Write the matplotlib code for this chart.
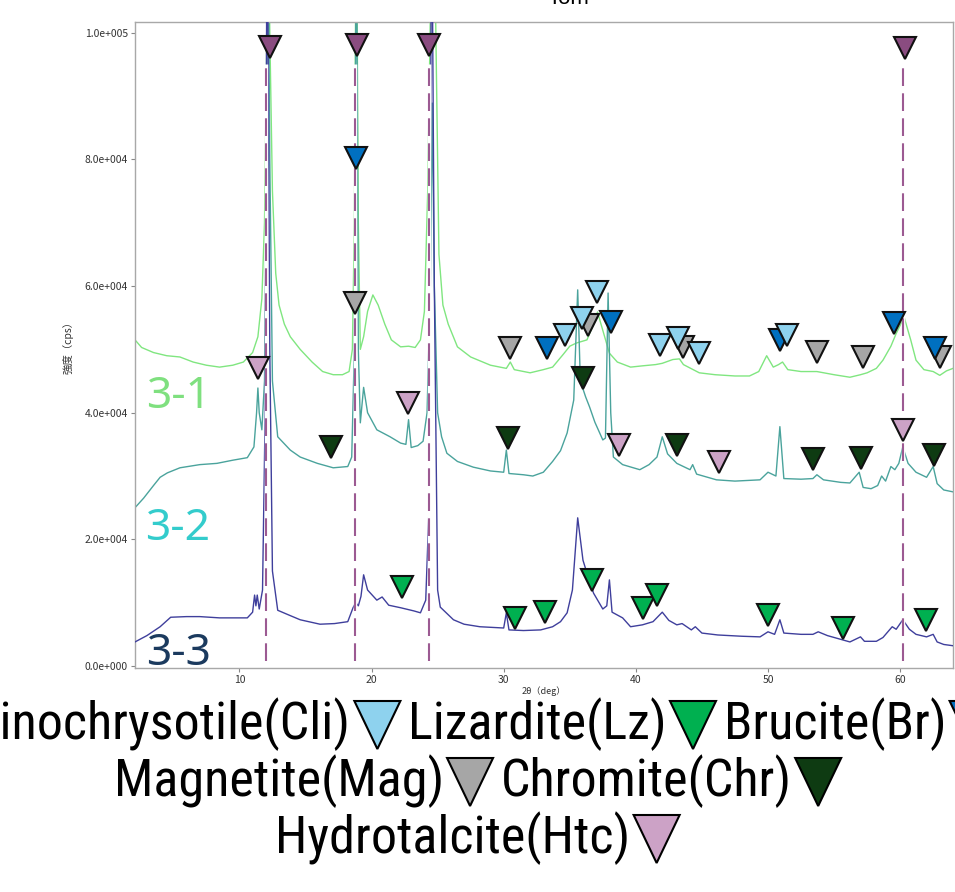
"""
XRD パターン (3-1, 3-2, 3-3) と鉱物ピーク位置の図
"""

import matplotlib
matplotlib.use('Agg')
import matplotlib.pyplot as plt
from matplotlib import font_manager
from matplotlib.font_manager import FontProperties
from matplotlib.patches import Polygon

plt.rcParams['font.family'] = ['Noto Sans CJK JP', 'DejaVu Sans']

# ============================================================
# データ (2θ [deg], 強度 [x1000 cps])
# ============================================================

x_31 = [2.1, 2.6, 3.5, 4.5, 5.5, 6.5, 7.5, 8.5, 9.5, 10.3, 11.0, 11.4, 11.7, 11.9, 12.05, 12.15, 12.3, 12.5,
        12.75, 13.0, 13.4, 13.85, 14.6, 15.5, 16.3, 17.1, 17.8, 18.3, 18.55, 18.7, 18.85, 19.0, 19.15, 19.4,
        19.7, 20.1, 20.5, 21.0, 21.5, 22.2, 22.8, 23.3, 23.7, 24.0, 24.25, 24.5, 24.7, 24.9, 25.1, 25.4,
        25.8, 26.5, 27.5, 29.0, 30.2, 30.5, 30.8, 32.0, 33.0, 33.7, 34.5, 35.0, 35.5, 36.3, 36.8, 37.1,
        37.5, 38.0, 38.6, 39.6, 40.5, 41.5, 42.0, 42.8, 43.3, 43.6, 44.8, 46.0, 47.5, 48.6, 49.3, 49.9,
        50.4, 50.8, 51.1, 51.5, 52.5, 53.7, 55.0, 56.2, 57.0, 57.5, 58.2, 58.7, 59.3, 59.7, 60.3, 60.8,
        61.2, 61.8, 62.5, 63.0, 63.5, 64.0]
y_31 = [51.5, 50.3, 49.5, 49.0, 48.8, 48.0, 47.5, 47.2, 47.5, 48.0, 49.5, 52.0, 58.0, 70.0, 95.0, 125.0, 100.0, 75.0,
        62.0, 57.0, 54.0, 52.0, 50.0, 48.0, 46.5, 46.0, 46.0, 46.5, 50.0, 70.0, 125.0, 70.0, 50.0, 52.0,
        56.0, 58.6, 57.0, 54.0, 51.5, 50.4, 50.5, 50.3, 51.5, 56.0, 75.0, 110.0, 125.0, 95.0, 65.0, 57.0,
        54.0, 50.4, 48.8, 47.5, 47.0, 48.0, 46.8, 46.3, 46.8, 47.2, 49.2, 50.5, 51.0, 51.5, 54.0, 55.9,
        53.0, 49.4, 48.0, 47.2, 47.4, 47.6, 47.8, 48.4, 48.5, 47.6, 46.3, 46.0, 45.8, 45.8, 46.5, 49.0,
        47.2, 47.6, 48.0, 46.8, 46.5, 46.5, 46.0, 45.6, 46.0, 46.3, 47.0, 48.3, 50.5, 52.5, 55.1, 51.5,
        48.3, 46.8, 46.5, 45.9, 46.6, 47.0]

x_32 = [2.1, 2.75, 3.5, 4.0, 4.55, 5.5, 7.0, 8.3, 9.5, 10.6, 11.1, 11.3, 11.4, 11.5, 11.7, 11.9, 12.05, 12.15,
        12.3, 12.5, 12.9, 13.85, 14.6, 15.9, 17.1, 18.2, 18.5, 18.7, 18.85, 19.0, 19.15, 19.4, 19.7, 20.4,
        21.4, 22.2, 22.6, 22.8, 23.0, 23.5, 23.9, 24.2, 24.45, 24.6, 24.75, 25.0, 25.3, 25.7, 26.5, 27.7,
        29.0, 30.0, 30.2, 30.4, 31.5, 32.2, 33.0, 33.7, 34.3, 34.8, 35.3, 35.6, 35.8, 36.2, 36.5, 36.9,
        37.5, 37.7, 37.9, 38.1, 38.3, 39.0, 40.3, 41.0, 41.6, 42.0, 42.4, 43.1, 43.6, 44.1, 44.3, 44.6,
        46.1, 47.5, 49.4, 50.0, 50.6, 50.9, 51.2, 52.5, 53.4, 53.7, 54.2, 55.5, 56.2, 56.9, 57.2, 57.8,
        58.3, 58.6, 58.9, 59.3, 59.6, 59.9, 60.2, 60.6, 61.2, 62.0, 62.5, 62.8, 63.3, 64.0]
y_32 = [25.0, 26.5, 28.5, 29.8, 30.5, 31.3, 31.8, 32.0, 32.5, 32.9, 34.6, 40.0, 43.9, 40.0, 37.3, 45.0, 80.0, 125.0,
        80.0, 45.0, 36.2, 34.1, 33.0, 32.0, 31.3, 31.5, 33.0, 50.0, 125.0, 50.0, 38.4, 44.0, 40.0, 37.3,
        36.2, 35.2, 35.0, 38.9, 34.5, 34.8, 35.5, 40.0, 60.0, 88.9, 60.0, 40.0, 36.2, 33.6, 32.3, 31.4,
        30.8, 30.6, 34.1, 30.4, 30.2, 30.0, 30.6, 32.3, 34.0, 36.8, 42.0, 59.4, 45.0, 42.5, 40.9, 38.5,
        35.7, 36.0, 58.9, 40.0, 33.0, 31.8, 31.0, 31.8, 33.0, 36.2, 33.5, 32.0, 31.5, 31.0, 31.8, 30.3,
        29.4, 29.2, 29.4, 30.6, 30.0, 37.8, 29.6, 29.5, 29.6, 30.2, 29.4, 29.0, 28.9, 30.6, 28.2, 28.0,
        28.5, 30.0, 29.2, 31.5, 31.0, 32.0, 34.6, 32.0, 30.6, 29.8, 31.5, 28.8, 27.8, 27.5]

x_33 = [2.1, 3.0, 4.0, 4.8, 6.0, 7.0, 8.5, 9.5, 10.6, 11.0, 11.15, 11.25, 11.35, 11.5, 11.75, 11.95, 12.1, 12.3,
        12.5, 12.9, 13.8, 14.6, 16.1, 17.2, 18.2, 18.6, 18.8, 19.0, 19.2, 19.4, 19.7, 20.4, 20.8, 21.3,
        22.2, 23.2, 23.7, 24.1, 24.35, 24.55, 24.75, 25.0, 25.2, 26.2, 27.0, 28.2, 30.0, 30.2, 30.4, 31.5,
        32.8, 33.7, 34.3, 34.8, 35.2, 35.6, 36.0, 36.4, 36.8, 37.5, 37.8, 38.0, 38.2, 39.0, 39.6, 40.5,
        41.3, 42.0, 42.5, 43.1, 43.5, 44.2, 44.5, 45.0, 46.2, 48.0, 49.4, 50.0, 50.5, 50.9, 51.2, 52.5,
        53.4, 53.8, 54.5, 56.2, 57.0, 57.3, 58.2, 58.7, 59.4, 59.7, 60.2, 60.7, 61.2, 62.0, 62.5, 62.8,
        63.3, 64.0]
y_33 = [3.8, 4.8, 6.2, 7.7, 7.8, 7.8, 7.6, 7.6, 7.6, 8.5, 11.2, 9.5, 11.2, 9.0, 12.0, 40.0, 125.0, 50.0,
        15.0, 8.8, 8.0, 7.3, 6.6, 6.7, 7.0, 9.2, 10.0, 9.5, 11.0, 14.4, 12.0, 10.4, 10.9, 9.6,
        9.2, 8.7, 8.4, 10.4, 25.0, 125.0, 60.0, 12.0, 9.3, 7.3, 6.6, 6.2, 6.0, 8.4, 5.7, 5.6,
        5.7, 6.2, 7.0, 8.4, 12.0, 23.4, 16.7, 14.0, 11.5, 9.0, 9.5, 13.6, 8.5, 7.6, 6.2, 6.5,
        7.0, 8.5, 7.2, 6.5, 6.7, 5.7, 6.2, 5.2, 4.9, 4.7, 4.6, 5.4, 5.0, 7.3, 5.2, 5.0,
        5.0, 5.4, 4.8, 3.8, 4.6, 3.9, 3.9, 4.5, 6.2, 5.8, 7.3, 5.8, 5.0, 4.6, 5.0, 3.8,
        3.4, 3.2]

# Hydrotalcite 基準線 (破線) と上部マーカー
htc_line_x = [12.04, 18.77, 24.36, 60.19]
htc_top_x = [12.34, 18.92, 24.36, 60.34]
htc_top_y = [97.8, 98.1, 98.1, 97.6]

# 鉱物ピークマーカー (x: 2θ, y: 強度 x1000)
mag_x = [18.77, 30.48, 36.38, 43.56, 53.69, 57.17, 62.99]
mag_y = [57.3, 50.2, 53.9, 50.4, 49.6, 48.8, 48.8]
br_x = [18.84, 33.28, 38.12, 50.89, 59.51, 62.61]
br_y = [80.3, 50.2, 54.3, 51.5, 54.2, 50.2]
cli_x = [34.64, 35.93, 37.06, 41.82, 43.18, 44.77, 51.42]
cli_y = [52.3, 55.0, 59.1, 50.7, 51.8, 49.4, 52.3]
chr_x = [16.95, 30.33, 36.0, 43.11, 53.39, 57.01, 62.53]
chr_y = [34.6, 36.0, 45.5, 34.9, 32.7, 32.9, 33.3]
htc_x = [11.44, 22.77, 38.72, 46.28, 60.19]
htc_y = [47.1, 41.5, 34.9, 32.2, 37.3]
lz_x = [22.32, 30.86, 33.13, 36.68, 40.54, 41.6, 49.98, 55.65, 61.93]
lz_y = [12.5, 7.6, 8.5, 13.6, 9.2, 11.2, 8.1, 6.0, 7.3]

y_ticks = [0, 20000, 40000, 60000, 80000, 100000]
y_tick_labels = ['0.0e+000', '2.0e+004', '4.0e+004', '6.0e+004', '8.0e+004', '1.0e+005']
x_ticks = [10, 20, 30, 40, 50, 60]

# 色
C_31 = '#80E680'
C_32 = '#4AA39C'
C_33 = '#3F3F9C'
CLI_COLOR = '#8ED2EE'
LZ_COLOR = '#00B050'
BR_COLOR = '#0070C0'
MAG_COLOR = '#A6A6A6'
CHR_COLOR = '#0E3B12'
HTC_COLOR = '#CCA2C6'
TOP_COLOR = '#8A4C80'
DASH_COLOR = '#9C5A92'


def narrow_font():
    """細字体 (Narrow / Condensed) を探す。無ければ None"""
    entries = font_manager.fontManager.ttflist
    wanted = ['Liberation Sans Narrow', 'Roboto Condensed', 'DejaVu Sans Condensed',
              'Noto Sans Condensed', 'Open Sans Condensed', 'Arial Narrow']
    for name in wanted:
        for e in entries:
            if e.name == name and e.style == 'normal' and e.weight in (400, 'normal', 'regular'):
                return FontProperties(fname=e.fname)
    for e in entries:
        if ('Narrow' in e.name or 'Condensed' in e.name or e.stretch in ('condensed', 'semi-condensed')) \
                and e.style == 'normal' and e.weight in (400, 'normal', 'regular') \
                and 'Bold' not in e.fname and 'Light' not in e.fname and 'Mono' not in e.name:
            return FontProperties(fname=e.fname)
    return None


# ============================================================
# 図
# ============================================================
fig = plt.figure(figsize=(9.55, 8.92), dpi=100)
ax = fig.add_axes([135 / 955, 1 - 668 / 892, (953 - 135) / 955, (668 - 22) / 892])

k = 1000.0
ax.plot(x_33, [v * k for v in y_33], color=C_33, lw=1.0, zorder=3)
ax.plot(x_32, [v * k for v in y_32], color=C_32, lw=1.0, zorder=2)
ax.plot(x_31, [v * k for v in y_31], color=C_31, lw=1.0, zorder=1)

# 破線
ax.vlines(htc_line_x, 800, 95000, color='white', lw=2.5, zorder=4)
ax.vlines(htc_line_x, 800, 95000, color=DASH_COLOR, lw=1.5, linestyles=(0, (8.5, 3.5)), zorder=5)

ms = 15.5
def markers(xs, ys, color, z):
    ax.plot(xs, [v * k for v in ys], 'v', ms=ms, mfc=color, mec='#111111', mew=1.5,
            ls='none', zorder=z, clip_on=False)

markers(mag_x, mag_y, MAG_COLOR, 6)
markers(br_x, br_y, BR_COLOR, 7)
markers(cli_x, cli_y, CLI_COLOR, 8)
markers(chr_x, chr_y, CHR_COLOR, 8)
markers(htc_x, htc_y, HTC_COLOR, 8)
markers(lz_x, lz_y, LZ_COLOR, 8)
markers(htc_top_x, htc_top_y, TOP_COLOR, 8)

ax.set_xlim(2.1, 64.0)
ax.set_ylim(-316, 101700)
ax.set_xticks(x_ticks)
ax.set_yticks(y_ticks)
ax.set_yticklabels(y_tick_labels)
ax.tick_params(direction='out', length=3, width=0.8, color='#888888', labelsize=7.5,
               labelcolor='#333333', pad=2)
for s in ax.spines.values():
    s.set_color('#A8A8A8')
    s.set_linewidth(1.0)
ax.set_xlabel('2θ（deg）', fontsize=6.5, color='#333333', labelpad=1)
ax.set_ylabel('強度（cps）', fontsize=7.5, color='#333333', labelpad=8)

# ============================================================
# 重ね書き用 (ピクセル座標)
# ============================================================
ov = fig.add_axes([0, 0, 1, 1], zorder=10)
ov.set_xlim(0, 955)
ov.set_ylim(892, 0)
ov.axis('off')

ov.text(568, 4, 'Tom', fontsize=16, ha='center', va='baseline', family='Liberation Sans', color='black')

label_font = 'Noto Sans'
ov.text(146, 408, '3-1', fontsize=32, color='#7FE07F', family=label_font, va='baseline')
ov.text(145, 540, '3-2', fontsize=32, color='#33CCCC', family=label_font, va='baseline')
ov.text(146, 665, '3-3', fontsize=32, color='#1B3A5E', family=label_font, va='baseline')

# 凡例
legend_rows = [
    [('Clinochrysotile(Cli)', CLI_COLOR), ('Lizardite(Lz)', LZ_COLOR), ('Brucite(Br)', BR_COLOR)],
    [('Magnetite(Mag)', MAG_COLOR), ('Chromite(Chr)', CHR_COLOR)],
    [('Hydrotalcite(Htc)', HTC_COLOR)],
]
row_baselines = [739, 796, 853]
tri_w, tri_h = 46, 48
gap_before, gap_after = 3, 8

renderer = fig.canvas.get_renderer()
fp = narrow_font()
if fp is None:
    fp = FontProperties(family='Liberation Sans')

# "Hydrotalcite(Htc)" の幅が約 355px になる大きさに合わせる
probe = ov.text(0, 0, 'Hydrotalcite(Htc)', fontproperties=fp, fontsize=40)
size = 40 * 355 / probe.get_window_extent(renderer).width
size = min(size, 42)
probe.remove()

for row, base in zip(legend_rows, row_baselines):
    texts = []
    for label, color in row:
        t = ov.text(0, base, label, fontproperties=fp, fontsize=size,
                    va='baseline', ha='left', color='black')
        texts.append(t)
    widths = [t.get_window_extent(renderer).width for t in texts]
    total = sum(widths) + len(row) * (gap_before + tri_w) + (len(row) - 1) * gap_after
    xpos = 955 / 2 - total / 2
    for t, w, (label, color) in zip(texts, widths, row):
        t.set_x(xpos)
        xpos += w + gap_before
        top = base - 38
        tri = Polygon([[xpos, top], [xpos + tri_w, top], [xpos + tri_w / 2, top + tri_h]],
                      closed=True, facecolor=color, edgecolor='black', lw=1.5)
        ov.add_patch(tri)
        xpos += tri_w + gap_after

fig.savefig('out.png', dpi=100)
